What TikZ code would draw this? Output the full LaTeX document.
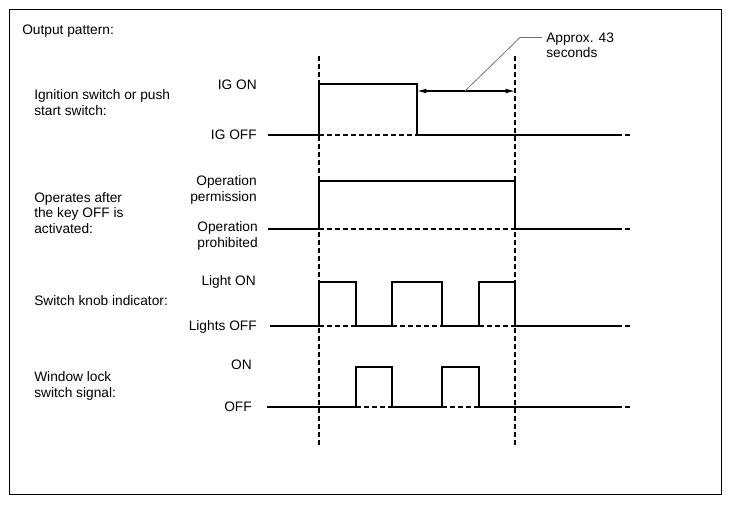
\documentclass[tikz,border=0pt]{standalone}
\usepackage{fontspec}
\setmainfont{Liberation Sans}
\usetikzlibrary{arrows.meta}
\begin{document}
\begin{tikzpicture}[x=0.75pt,y=-0.75pt,
  sig/.style={line width=0.8pt, line join=miter},
  dsh/.style={line width=0.8pt, dash pattern=on 3.75pt off 2.25pt},
  lbl/.style={inner sep=0pt, font=\fontsize{10.3}{11.6}\selectfont},
  lleft/.style={lbl, anchor=west, align=left},
  lright/.style={lbl, anchor=east, align=right},
  leader/.style={line width=0.6pt, draw=black!55}]
\useasboundingbox (0,0) rectangle (731,505);
\draw[line width=0.9pt] (9.5,9.5) rectangle (721.5,494.5);

\node[lleft] (title) at (22,31) {Output pattern:};

% left labels
\node[lleft] (ig) at (34,102.5) {Ignition switch or push\\start switch:};
\node[lleft] (op) at (34,213) {Operates after\\the key OFF is\\activated:};
\node[lleft] (sk) at (34,301) {Switch knob indicator:};
\node[lleft] (wl) at (34,386) {Window lock\\switch signal:};

% level labels
\node[lright] (igon) at (257,85) {IG ON};
\node[lright] (igoff) at (257,135) {IG OFF};
\node[lright] (opp) at (257,190) {Operation\\permission};
\node[lright] (oppr) at (258,236) {Operation\\prohibited};
\node[lright] (lon) at (256,282) {Light ON};
\node[lright] (loff) at (257,327) {Lights OFF};
\node[lright] (won) at (252,365) {ON};
\node[lright] (woff) at (252,407) {OFF};

% vertical reference lines
\coordinate (t0top) at (319,56);
\coordinate (t0bot) at (319,445);
\coordinate (t1top) at (515,56);
\coordinate (t1bot) at (515,445);
\draw[dsh] (t0top) -- (t0bot);
\draw[dsh] (t1top) -- (t1bot);

% row 1
\draw[sig] (268,135) -- (319,135) -- (319,84) -- (417,84) -- (417,135) -- (617,135);
\draw[dsh] (319,135) -- (417,135);
\draw[dsh] (617,135) -- (632,135);

% row 2
\draw[sig] (268,229) -- (319,229) -- (319,181) -- (515,181) -- (515,229) -- (617,229);
\draw[dsh] (319,229) -- (515,229);
\draw[dsh] (617,229) -- (632,229);

% row 3
\draw[sig] (270,326) -- (319,326) -- (319,282) -- (356,282) -- (356,326) -- (392,326)
  -- (392,282) -- (442,282) -- (442,326) -- (479,326) -- (479,282) -- (515,282)
  -- (515,326) -- (617,326);
\draw[dsh] (319,326) -- (356,326);
\draw[dsh] (392,326) -- (442,326);
\draw[dsh] (479,326) -- (515,326);
\draw[dsh] (617,326) -- (632,326);

% row 4
\draw[sig] (267,407) -- (356,407) -- (356,367) -- (392,367) -- (392,407) -- (442,407)
  -- (442,367) -- (479,367) -- (479,407) -- (617,407);
\draw[dsh] (356,407) -- (392,407);
\draw[dsh] (442,407) -- (479,407);
\draw[dsh] (617,407) -- (632,407);

% delay arrow and note
\coordinate (aL) at (417,91);
\coordinate (aR) at (515,91);
\coordinate (lead) at (465,91);
\coordinate (knee) at (520,37.5);
\node[lleft] (note) at (546,45.5) {Approx. 43\\seconds};
\draw[line width=0.8pt, {Latex[length=7pt,width=3.5pt]}-{Latex[length=7pt,width=3.5pt]}] (aL) -- (aR);
\draw[leader] (lead) -- (knee) -- (542,37.5);
\end{tikzpicture}
\end{document}
